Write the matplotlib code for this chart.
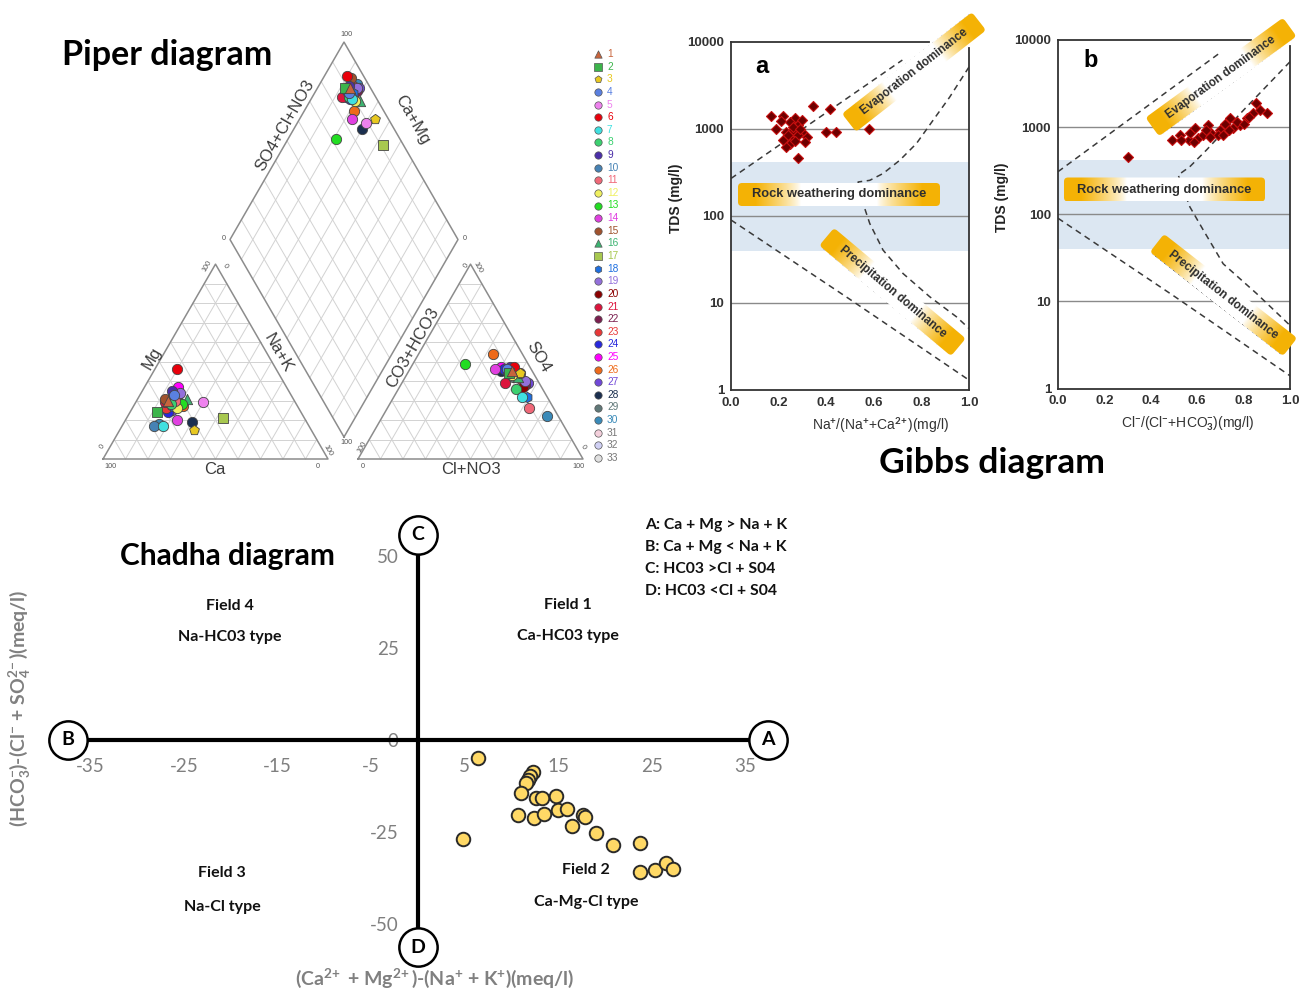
import numpy as np
import matplotlib
matplotlib.use('Agg')
import matplotlib.pyplot as plt
from matplotlib.patches import FancyBboxPatch
from matplotlib.transforms import Affine2D

plt.rcParams['font.family'] = ['Lato', 'DejaVu Sans']
plt.rcParams['axes.unicode_minus'] = False
plt.rcParams['mathtext.fontset'] = 'custom'
plt.rcParams['mathtext.rm'] = 'Lato:bold'
plt.rcParams['mathtext.bf'] = 'Lato:bold'
plt.rcParams['mathtext.it'] = 'Lato:bold'
plt.rcParams['mathtext.sf'] = 'Lato:bold'

W, HF = 1303, 992
fig = plt.figure(figsize=(W / 100, HF / 100), dpi=100)

# ---------------- DATA ----------------
sample_ids = list(range(1, 34))
cat_mg = [30, 24, 15, 33, 29, 46, 17, 28, 35, 17, 30, 26, 28, 20, 31, 31, 21, 27, 34, 32, 29, 30, 26, 24, 37, 27, 25, 19, 32, 18, 30, 28, 31]
cat_nak = [14, 12, 33, 15, 30, 10, 18, 16, 13, 14, 17, 20, 21, 23, 12, 22, 43, 17, 17, 15, 13, 18, 15, 17, 15, 22, 18, 30, 17, 16, 16, 18, 15]
cat_ca = [56, 64, 52, 52, 41, 44, 65, 56, 52, 69, 53, 54, 51, 57, 57, 47, 36, 56, 49, 53, 58, 52, 59, 59, 48, 51, 57, 51, 51, 66, 54, 54, 54]
an_so4 = [45, 44, 44, 46, 44, 47, 32, 36, 47, 45, 26, 43, 49, 46, 44, 42, 45, 32, 40, 37, 39, 38, 41, 46, 47, 54, 39, 45, 42, 22, 44, 43, 45]
an_cl = [46, 45, 50, 43, 45, 46, 57, 52, 44, 44, 63, 47, 23, 38, 50, 50, 46, 59, 54, 55, 46, 55, 52, 42, 40, 33, 56, 41, 48, 73, 46, 47, 45]
an_hco3 = [9, 11, 6, 11, 11, 7, 11, 12, 9, 11, 11, 10, 28, 16, 6, 8, 9, 9, 6, 8, 15, 7, 7, 12, 13, 13, 5, 14, 10, 5, 10, 10, 10]
sample_colors = ['#c8643c', '#3cb44b', '#e8c820', '#5a80e0', '#ee82ee', '#e8000b', '#40e0e0', '#3cd070',
                 '#4b2fa8', '#4682b4', '#f06878', '#f0f060', '#22dd22', '#e040e0', '#a0522d', '#3cb371',
                 '#a8c850', '#1e6fe0', '#9370db', '#8b0000', '#dc143c', '#7b1f4f', '#e83838', '#2828dd',
                 '#ff00ff', '#ee6a1a', '#7048d8', '#1b2f4f', '#607878', '#3a8ab8', '#f4d0dc', '#d0d0f4', '#e0e0e0']
sample_markers = ['^', 's', 'p'] + ['o'] * 12 + ['^', 's', 'h'] + ['o'] * 15

# Gibbs a: Na/(Na+Ca) vs TDS
gibbs_a_ratio = [0.17, 0.22, 0.19, 0.27, 0.25, 0.28, 0.23, 0.26, 0.30, 0.32, 0.25, 0.28, 0.25, 0.31, 0.23, 0.28,
                 0.345, 0.415, 0.40, 0.44, 0.58, 0.22, 0.30, 0.21, 0.26, 0.29, 0.24, 0.27]
gibbs_a_tds = [1400, 1400, 1010, 1350, 1200, 1100, 925, 970, 925, 810, 780, 850, 680, 710, 620, 460,
               1820, 1700, 925, 925, 1010, 745, 1260, 1250, 1050, 1000, 850, 720]
# Gibbs b: Cl/(Cl+HCO3) vs TDS
gibbs_b_ratio = [0.30, 0.49, 0.525, 0.565, 0.57, 0.59, 0.605, 0.625, 0.645, 0.66, 0.70, 0.72, 0.74, 0.755, 0.785,
                 0.815, 0.84, 0.855, 0.90, 0.87, 0.69, 0.655, 0.585, 0.735, 0.77, 0.825, 0.53, 0.64, 0.71, 0.80]
gibbs_b_tds = [460, 720, 815, 710, 850, 970, 745, 815, 1050, 850, 930, 1100, 1260, 970, 1050,
               1260, 1440, 1870, 1440, 1580, 815, 780, 680, 930, 1160, 1320, 710, 930, 815, 1100]

# Gibbs boundary curves (x, TDS)
a_upper_x, a_upper_y = [0.0, 0.72], [270, 6200]
a_bend_x = [1.0, 0.919, 0.849, 0.779, 0.709, 0.639, 0.583, 0.534, 0.555, 0.583, 0.639, 0.723, 0.835, 0.947, 1.0]
a_bend_y = [5160, 2330, 1260, 680, 437, 308, 257, 246, 139, 82, 40.5, 21.8, 11.8, 6.95, 5.1]
a_lower_x, a_lower_y = [0.0, 0.5, 1.0], [90, 11, 1.3]
b_upper_x, b_upper_y = [0.0, 0.705], [308, 7350]
b_bend_x = [1.0, 0.8, 0.64, 0.568, 0.518, 0.568, 0.626, 0.712, 0.856, 1.0]
b_bend_y = [5630, 1570, 546, 351, 282, 122, 66, 27, 12.3, 5.3]
b_lower_x, b_lower_y = [0.0, 0.5, 1.0], [90, 11.5, 1.4]
band_tds = [40, 420]
gibbs_yticks = [1, 10, 100, 1000, 10000]
gibbs_xticks = [0.0, 0.2, 0.4, 0.6, 0.8, 1.0]

# Chadha
chadha_x = [6.45, 4.85, 12.33, 11.98, 11.8, 11.55, 10.98, 12.62, 13.3, 14.76, 10.66, 12.4, 13.5, 15.0,
            15.9, 17.6, 17.86, 16.5, 19.0, 20.9, 23.7, 23.7, 25.35, 26.5, 27.3]
chadha_y = [-4.98, -26.9, -8.6, -9.8, -10.9, -11.6, -14.5, -15.85, -15.85, -15.1, -20.4, -21.3, -20.1, -19.0,
            -18.8, -20.4, -20.8, -23.3, -25.2, -28.4, -28.1, -36.0, -35.3, -33.5, -35.1]
chadha_xticks = [-35, -25, -15, -5, 5, 15, 25, 35]
chadha_yticks = [-50, -25, 0, 25, 50]

ARIAL = ['Liberation Sans', 'DejaVu Sans']

# ---------------- GIBBS ----------------
def gibbs(rect, xs, ys, upper, bend, lower, letter, letter_pos, xlabel, ylab_x, xlab_x):
    ax = fig.add_axes(rect)
    ax.set_yscale('log')
    ax.set_xlim(0, 1.0)
    ax.set_ylim(1, 10000)
    ax.axhspan(band_tds[0], band_tds[1], color='#dce7f2', lw=0, zorder=0)
    for g in [10, 100, 1000]:
        ax.axhline(g, color='#8a8a8a', lw=1.0, zorder=1)
    for cx, cy in (upper, bend, lower):
        ax.plot(cx, cy, color='#3a3a3a', lw=1.1, dashes=(4, 3), zorder=2)
    ax.scatter(xs, ys, marker='D', s=26, c='#6e0000', edgecolors='#c81010', linewidths=0.8, zorder=4)
    ax.set_yticks(gibbs_yticks)
    ax.set_yticklabels([str(v) for v in gibbs_yticks])
    ax.minorticks_off()
    ax.set_xticks(gibbs_xticks)
    ax.set_xticklabels(['%.1f' % v for v in gibbs_xticks])
    ax.tick_params(length=0, labelsize=9.5, labelcolor='#333333', pad=5)
    for lab in ax.get_xticklabels() + ax.get_yticklabels():
        lab.set_fontweight('bold')
        lab.set_family(ARIAL)
    for s in ax.spines.values():
        s.set_color('#333333')
        s.set_linewidth(1.3)
    ax.spines['top'].set_bounds(0, 0.83)
    ax.spines['right'].set_bounds(1, 8500)
    ax.patch.set_alpha(0)
    ax.set_ylabel('TDS (mg/l)', fontsize=10, fontweight='bold', color='#222222', family=ARIAL)
    ax.yaxis.set_label_coords(ylab_x, 0.55)
    ax.set_xlabel(xlabel, fontsize=10, color='#333333', family=ARIAL)
    ax.xaxis.set_label_coords(xlab_x, -0.075)
    ax.text(letter_pos[0], letter_pos[1], letter, transform=ax.transAxes, fontsize=17,
            fontweight='bold', family=ARIAL, ha='center', va='center')
    return ax

gibbs([731 / W, 1 - 390 / HF, 238 / W, 348 / HF], gibbs_a_ratio, gibbs_a_tds,
      (a_upper_x, a_upper_y), (a_bend_x, a_bend_y), (a_lower_x, a_lower_y), 'a', (0.13, 0.93),
      r'Na$^{+}$/(Na$^{+}$+Ca$^{2\!+}$)(mg/l)', -0.2, 0.626)
gibbs([1058 / W, 1 - 388.5 / HF, 232 / W, 348.5 / HF], gibbs_b_ratio, gibbs_b_tds,
      (b_upper_x, b_upper_y), (b_bend_x, b_bend_y), (b_lower_x, b_lower_y), 'b', (0.14, 0.94),
      r'Cl$^{-}$/(Cl$^{-}$+HCO$_{3}^{-}$)(mg/l)', -0.21, 0.56)

# ---------------- CHADHA ----------------
ax3 = fig.add_axes([68.3 / W, 1 - 947.2 / HF, 699.4 / W, 412.2 / HF])
ax3.set_xlim(-37.4, 37.4)
ax3.set_ylim(-56.3, 55.7)
ax3.patch.set_alpha(0)
ax3.spines['left'].set_position(('data', 0))
ax3.spines['bottom'].set_position(('data', 0))
ax3.spines['right'].set_visible(False)
ax3.spines['top'].set_visible(False)
for s in ('left', 'bottom'):
    ax3.spines[s].set_linewidth(3)
    ax3.spines[s].set_color('black')
ax3.set_xticks(chadha_xticks)
ax3.set_yticks(chadha_yticks)
ax3.tick_params(length=0, labelsize=13.5, labelcolor='#7f7f7f')
ax3.tick_params(axis='x', pad=13)
ax3.tick_params(axis='y', pad=14)
ax3.scatter(chadha_x, chadha_y, s=95, c='#ffd966', edgecolors='#2a2a2a', linewidths=1.4, zorder=5)
xl, yl = ax3.get_xlim(), ax3.get_ylim()
for (px, py, lt) in [(xl[1], 0, 'A'), (xl[0], 0, 'B'), (0, yl[1], 'C'), (0, yl[0], 'D')]:
    ax3.scatter([px], [py], s=760, c='white', edgecolors='black', linewidths=1.8, zorder=6, clip_on=False)
    ax3.text(px, py, lt, ha='center', va='center', fontsize=14, fontweight='bold', zorder=7)

# ---------------- CANVAS (Piper + texts) ----------------
cv = fig.add_axes([0, 0, 1, 1])
cv.set_xlim(0, W)
cv.set_ylim(0, HF)
cv.axis('off')
cv.patch.set_alpha(0)

def Y(y):
    return HF - y

S = 225.0
TH = S * np.sqrt(3) / 2
cat0 = (103.0, Y(459))
an0 = (358.0, Y(459))
DS = 228.0
dB = (344.0, Y(437))
e_s = np.array([0.5, np.sqrt(3) / 2]) * DS
e_c = np.array([-0.5, np.sqrt(3) / 2]) * DS

grid_kw = dict(color='#d2d2d2', lw=0.7, zorder=1)
out_kw = dict(color='#8c8c8c', lw=1.1, zorder=2)

def tri(o):
    x0, y0 = o
    for i in range(1, 10):
        f = i / 10
        cv.plot([x0 + S * f / 2, x0 + S - S * f / 2], [y0 + TH * f, y0 + TH * f], **grid_kw)
        cv.plot([x0 + S * f, x0 + S * (f + (1 - f) / 2)], [y0, y0 + TH * (1 - f)], **grid_kw)
        cv.plot([x0 + S * (1 - f), x0 + S * (1 - f) / 2], [y0, y0 + TH * (1 - f)], **grid_kw)
    cv.plot([x0, x0 + S, x0 + S / 2, x0], [y0, y0, y0 + TH, y0], **out_kw)

tri(cat0)
tri(an0)
B = np.array(dB)
for i in range(1, 10):
    f = i / 10
    p1, p2 = B + f * e_s, B + f * e_s + e_c
    cv.plot([p1[0], p2[0]], [p1[1], p2[1]], **grid_kw)
    p1, p2 = B + f * e_c, B + f * e_c + e_s
    cv.plot([p1[0], p2[0]], [p1[1], p2[1]], **grid_kw)
corners = [B, B + e_s, B + e_s + e_c, B + e_c, B]
cv.plot([c[0] for c in corners], [c[1] for c in corners], **out_kw)

mg = np.array(cat_mg, float); nak = np.array(cat_nak, float); ca = np.array(cat_ca, float)
so4 = np.array(an_so4, float); cl = np.array(an_cl, float); hco3 = np.array(an_hco3, float)
tc = ca + mg + nak
ta = so4 + cl + hco3
cx_ = cat0[0] + S * (nak / tc + mg / tc / 2)
cy_ = cat0[1] + TH * mg / tc
ax_ = an0[0] + S * (cl / ta + so4 / ta / 2)
ay_ = an0[1] + TH * so4 / ta
sv = (cl + so4) / ta
cvv = (ca + mg) / tc
dx_ = B[0] + sv * e_s[0] + cvv * e_c[0]
dy_ = B[1] + sv * e_s[1] + cvv * e_c[1]

n = len(sample_ids)
for i in reversed(range(n)):
    zo = 4 + (n - i) * 0.01
    for (px, py) in ((cx_[i], cy_[i]), (ax_[i], ay_[i]), (dx_[i], dy_[i])):
        cv.scatter([px], [py], s=55, marker=sample_markers[i], c=sample_colors[i],
                   edgecolors='#454545', linewidths=0.6, zorder=zo)
for i in range(n):
    ly = Y(54 + i * 12.625)
    cv.scatter([598], [ly], s=28, marker=sample_markers[i], c=sample_colors[i],
               edgecolors='#555555', linewidths=0.5, zorder=4)
    tcol = sample_colors[i] if i < 30 else '#777777'
    cv.text(607, ly, str(sample_ids[i]), fontsize=7.3, color=tcol, va='center', ha='left', family=ARIAL)

plab = dict(fontsize=12, color='#3c3c3c', ha='center', va='center', family=ARIAL, rotation_mode='anchor')
cv.text(152, Y(358), 'Mg', rotation=60, **plab)
cv.text(278, Y(353), 'Na+K', rotation=-60, **plab)
cv.text(215, Y(470), 'Ca', **plab)
cv.text(413, Y(348), 'CO3+HCO3', rotation=60, **plab)
cv.text(538, Y(357), 'SO4', rotation=-60, **plab)
cv.text(471, Y(470), 'Cl+NO3', **plab)
cv.text(285, Y(125), 'SO4+Cl+NO3', rotation=60, **plab)
cv.text(412, Y(120), 'Ca+Mg', rotation=-60, **plab)

tk = dict(fontsize=5.2, color='#555555', ha='center', va='center', family=ARIAL)
for (x, y, t, r) in [(110, 466, '100', 0), (318, 466, '0', 0), (102, 447, '0', 60), (207, 266, '100', 60),
                     (225, 266, '0', -60), (328, 451, '100', -60),
                     (363, 466, '0', 0), (578, 466, '100', 0), (362, 447, '100', 60), (466, 266, '0', 60),
                     (478, 268, '100', -60), (583, 447, '0', -60),
                     (346, 35, '100', 0), (224, 239, '0', 0), (465, 239, '0', 0), (346, 443, '100', 0)]:
    cv.text(x, Y(y), t, rotation=r, **tk)

# gradient label boxes for Gibbs
def grad_box(cx, cy, w, h, ang, label, fs):
    cyu = Y(cy)
    tr = Affine2D().rotate_deg(ang).translate(cx, cyu) + cv.transData
    patch = FancyBboxPatch((-w / 2, -h / 2), w, h, boxstyle='round,pad=0,rounding_size=4',
                           transform=tr, fc='none', ec='none')
    cv.add_patch(patch)
    t = np.linspace(-1, 1, 300)
    wgt = np.clip((np.abs(t) - 0.38) / 0.45, 0, 1) ** 0.8
    orange = np.array([0.96, 0.70, 0.02])
    white = np.array([1.0, 1.0, 1.0])
    rgb = white[None, :] * (1 - wgt[:, None]) + orange[None, :] * wgt[:, None]
    img = np.repeat(rgb[None, :, :], 2, axis=0)
    im = cv.imshow(img, extent=(-w / 2, w / 2, -h / 2, h / 2), aspect='auto',
                   interpolation='bilinear', zorder=6)
    im.set_transform(tr)
    im.set_clip_path(patch)
    cv.text(cx, cyu, label, rotation=ang, rotation_mode='anchor', ha='center', va='center',
            fontsize=fs, fontweight='bold', color='#2e2e2e', zorder=7, family=ARIAL)

grad_box(914, 72, 165, 23, 38, 'Evaporation dominance', 8.4)
grad_box(839, 194.5, 202, 23, 0, 'Rock weathering dominance', 9.3)
grad_box(892.5, 292, 172, 23, -40, 'Precipitation dominance', 8.4)
grad_box(1221, 77, 170, 23, 36, 'Evaporation dominance', 8.4)
grad_box(1164.5, 189.5, 201, 24, 0, 'Rock weathering dominance', 9.3)
grad_box(1223.5, 295, 169, 23, -38, 'Precipitation dominance', 8.4)

# titles
cv.text(167, Y(55), 'Piper diagram', fontsize=24.5, fontweight='bold', ha='center', va='center')
cv.text(992, Y(463), 'Gibbs diagram', fontsize=25.5, fontweight='bold', ha='center', va='center')
cv.text(227, Y(556), 'Chadha diagram', fontsize=21.5, fontweight='bold', ha='center', va='center')

ft = dict(fontsize=11.5, fontweight='bold', ha='center', va='center', color='#111111')
cv.text(230, Y(606), 'Field 4', **ft)
cv.text(230, Y(637), 'Na-HC03 type', **ft)
cv.text(568, Y(605), 'Field 1', **ft)
cv.text(568, Y(636), 'Ca-HC03 type', **ft)
cv.text(222, Y(873), 'Field 3', **ft)
cv.text(222, Y(907), 'Na-Cl type', **ft)
cv.text(586, Y(870), 'Field 2', **ft)
cv.text(586, Y(902), 'Ca-Mg-Cl type', **ft)
for j, s in enumerate(['A: Ca + Mg > Na + K', 'B: Ca + Mg < Na + K', 'C: HC03 >Cl + S04', 'D: HC03 <Cl + S04']):
    cv.text(645, Y(525 + 22 * j), s, fontsize=11.3, fontweight='bold', ha='left', va='center', color='#111111')

cv.text(435, Y(978), r'(Ca$^{2\!+}$ + Mg$^{2\!+}$)-(Na$^{+}$ + K$^{+}$)(meq/l)', fontsize=14,
        fontweight='bold', color='#808080', ha='center', va='center')
cv.text(20, Y(708), r'(HCO$_{3}^{-}$)-(Cl$^{-}$ + SO$_{4}^{2\!-}$)(meq/l)', fontsize=14, rotation=90,
        fontweight='bold', color='#808080', ha='center', va='center')

cv.set_xlim(0, W)
cv.set_ylim(0, HF)
fig.savefig('out.png', dpi=100)
